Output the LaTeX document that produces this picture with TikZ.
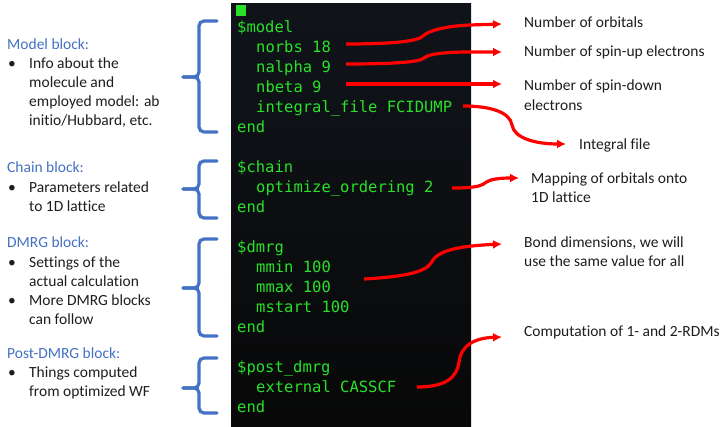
\documentclass[tikz,border=0pt]{standalone}
\usepackage{fontspec}
\setmainfont[Ligatures={NoCommon}]{Carlito}
\newfontfamily\codefont{DejaVu Sans Mono}
\usetikzlibrary{arrows.meta}
\definecolor{bracecol}{HTML}{4472C4}
\definecolor{headcol}{HTML}{4472C4}
\definecolor{bodycol}{HTML}{1E1E1E}
\definecolor{termgreen}{RGB}{40,225,40}
\definecolor{termtop}{HTML}{10141A}
\definecolor{termbot}{HTML}{080808}
\definecolor{arrowred}{RGB}{255,0,0}
\tikzset{
  code/.style={anchor=base west, inner sep=0pt, text=termgreen, font=\codefont\fontsize{15.5}{19}\selectfont},
  head/.style={anchor=base west, inner sep=0pt, text=headcol, font=\fontsize{15.5}{19}\selectfont},
  body/.style={anchor=base west, inner sep=0pt, text=bodycol, font=\fontsize{15.5}{19}\selectfont},
  bul/.style={anchor=base west, inner sep=0pt, text=bodycol, font=\fontsize{15.5}{19}\selectfont},
  label/.style={anchor=base west, inner sep=0pt, text=bodycol, font=\fontsize{15.5}{19}\selectfont},
  bracepath/.style={draw=bracecol, line width=3.2pt, rounded corners=5pt, line cap=round},
  redarrow/.style={draw=arrowred, line width=3.2pt, -{Latex[length=9pt,width=9pt]}},
}
\begin{document}
\begin{tikzpicture}[x=1pt,y=-1pt]
\useasboundingbox (0,0) rectangle (723,427);
\fill[white] (0,0) rectangle (723,427);
% terminal
\shade[top color=termtop, bottom color=termbot] (231,4) rectangle (471,427);
\fill[termgreen] (236,5) rectangle (246,16);

% code
\node[code] (cmodel) at (237,33) {\$model};
\node[code] (norbs) at (256,53) {norbs 18};
\node[code] (nalpha) at (256,73) {nalpha 9};
\node[code] (nbeta) at (256,93) {nbeta 9};
\node[code] (intfile) at (256,113) {integral\_file FCIDUMP};
\node[code] (end1) at (237,133) {end};
\node[code] (cchain) at (237,173) {\$chain};
\node[code] (optord) at (256,193) {optimize\_ordering 2};
\node[code] (end2) at (237,213) {end};
\node[code] (cdmrg) at (237,253) {\$dmrg};
\node[code] (mmin) at (256,273) {mmin 100};
\node[code] (mmax) at (256,293) {mmax 100};
\node[code] (mstart) at (256,313) {mstart 100};
\node[code] (end3) at (237,333) {end};
\node[code] (cpost) at (237,373) {\$post\_dmrg};
\node[code] (ext) at (256,393) {external CASSCF};
\node[code] (end4) at (237,413) {end};

% left descriptions
\node[head] (hmodel) at (7,50) {Model block:};
\node[bul] (b1) at (8,69) {•};
\node[body] (m1) at (29,69) {Info about the};
\node[body] (m2) at (29,88) {molecule and};
\node[body] (m3) at (29,107) {employed model: ab};
\node[body] (m4) at (29,126) {initio/Hubbard, etc.};

\node[head] (hchain) at (7,173) {Chain block:};
\node[bul] (b2) at (8,193) {•};
\node[body] (c1) at (29,193) {Parameters related};
\node[body] (c2) at (29,212) {to 1D lattice};

\node[head] (hdmrg) at (7,248) {DMRG block:};
\node[bul] (b3) at (8,268) {•};
\node[body] (d1) at (29,268) {Settings of the};
\node[body] (d2) at (29,287) {actual calculation};
\node[bul] (b4) at (8,306) {•};
\node[body] (d3) at (29,306) {More DMRG blocks};
\node[body] (d4) at (29,325) {can follow};

\node[head] (hpost) at (7,359) {Post-DMRG block:};
\node[bul] (b5) at (8,378) {•};
\node[body] (p1) at (29,378) {Things computed};
\node[body] (p2) at (29,397) {from optimized WF};

% braces
\foreach \t/\m/\b in {21/77/132, 161/189/218, 239/288/336, 358/388/413}{
  \draw[bracepath] (217,\t) -- (199,\t) -- (199,\m) -- (183,\m);
  \draw[bracepath] (183,\m) -- (199,\m) -- (199,\b) -- (217,\b);
}

% right labels
\node[label] (l1) at (524,28) {Number of orbitals};
\node[label] (l2) at (524,57) {Number of spin-up electrons};
\node[label] (l3a) at (524,91) {Number of spin-down};
\node[label] (l3b) at (524,111) {electrons};
\node[label] (l4) at (579,150) {Integral file};
\node[label] (l5a) at (531,184) {Mapping of orbitals onto};
\node[label] (l5b) at (531,203) {1D lattice};
\node[label] (l6a) at (524,248) {Bond dimensions, we will};
\node[label] (l6b) at (524,267) {use the same value for all};
\node[label] (l7) at (524,337) {Computation of 1- and 2-RDMs};

% arrow end points
\coordinate (s1) at (346,44);  \coordinate (e1) at (502,24);
\coordinate (s2) at (346,64);  \coordinate (e2) at (502,52);
\coordinate (s3) at (346,84);  \coordinate (e3) at (502,84);
\coordinate (s4) at (463,106); \coordinate (e4) at (566,144);
\coordinate (s5) at (452,188); \coordinate (e5) at (519,178);
\coordinate (s6) at (364,279); \coordinate (e6) at (502,244);
\coordinate (s7) at (417,387); \coordinate (e7) at (502,337);

\draw[redarrow] (s1) .. controls (395,44) and (418,41) .. (423,36) .. controls (428,31) and (445,26) .. (470,25) -- (e1);
\draw[redarrow] (s2) .. controls (395,64) and (420,62) .. (424,58) .. controls (428,54) and (445,52) .. (470,52) -- (e2);
\draw[redarrow] (s3) -- (e3);
\draw[redarrow] (s4) .. controls (490,106) and (510,112) .. (512,125) .. controls (514,138) and (535,144) .. (e4);
\draw[redarrow] (s5) .. controls (470,188) and (480,187) .. (485,183) .. controls (490,179) and (500,178) .. (e5);
\draw[redarrow] (s6) .. controls (400,277) and (425,273) .. (431,263) .. controls (437,250) and (460,246) .. (e6);
\draw[redarrow] (s7) .. controls (445,387) and (457,378) .. (459,362) .. controls (461,345) and (475,338) .. (e7);
\end{tikzpicture}
\end{document}
